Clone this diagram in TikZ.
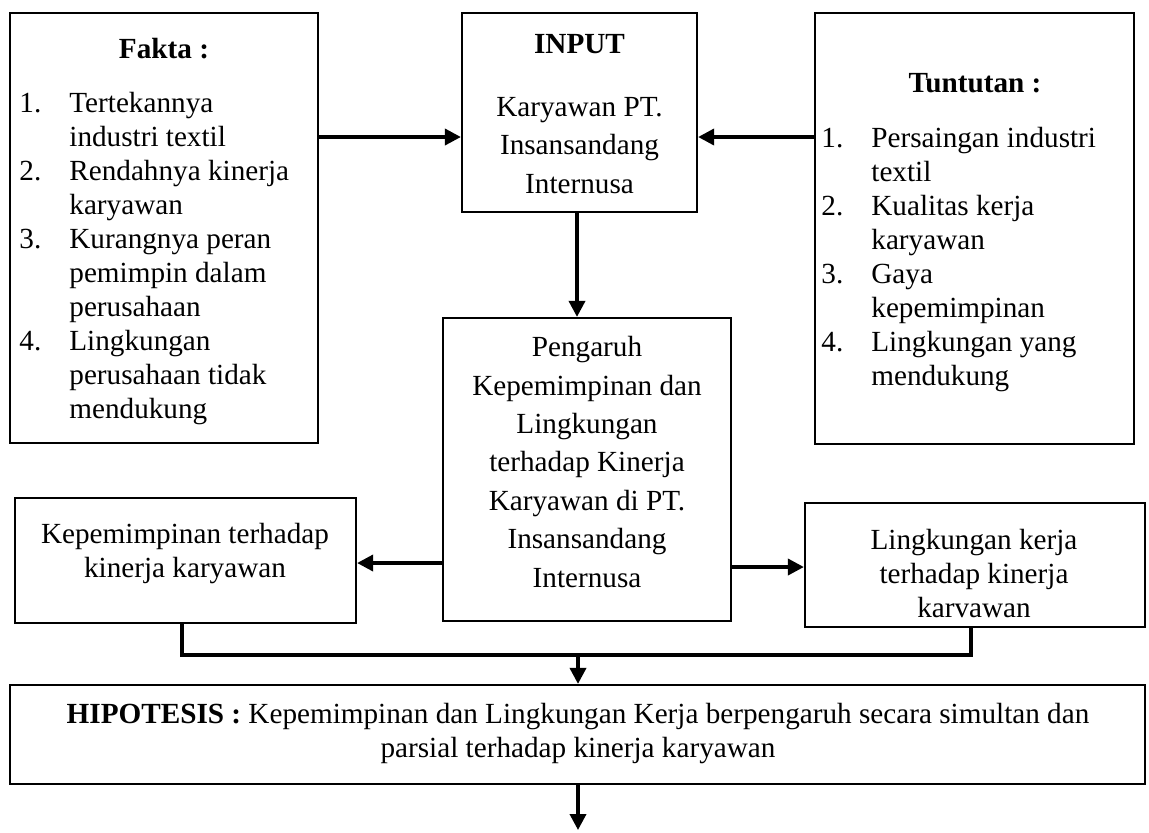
\documentclass[tikz,border=0pt]{standalone}
\usepackage{fontspec}
\setmainfont{Liberation Serif}
\usetikzlibrary{arrows.meta}
\def\nr#1{\makebox[25pt][l]{#1}}

\begin{document}
\begin{tikzpicture}[x=0.5pt,y=-0.5pt,
		kotak/.style={draw, line width=1.1pt, inner sep=0pt},
		teks/.style={inner sep=0pt, font=\fontsize{14.6}{17}\selectfont},
		teksB/.style={inner sep=0pt, font=\fontsize{14.6}{19.2}\selectfont},
		panah/.style={line width=1.8pt, -{Triangle[length=8pt,width=8pt]}},
		garis/.style={line width=1.8pt, line join=miter}]
			%%%%% START %%%%%
			\useasboundingbox (0,0) rectangle (1149,832);
			
			% kotak atas
			\node[kotak, minimum width=154pt, minimum height=215pt] (fakta) at (164,228) {};
			\node[kotak, minimum width=117.5pt, minimum height=99.5pt] (input) at (579.5,112.5) {};
			\node[kotak, minimum width=159.5pt, minimum height=215.5pt] (tuntutan) at (974.5,228.5) {};
			
			\node[teks, anchor=base] (faktajudul) at (164,58) {\textbf{Fakta :}};
			\node[teks, anchor=base west, align=left] (faktaisi) at (19,418) {\nr{1.}Tertekannya\\\nr{}industri textil\\\nr{2.}Rendahnya kinerja\\\nr{}karyawan\\\nr{3.}Kurangnya peran\\\nr{}pemimpin dalam\\\nr{}perusahaan\\\nr{4.}Lingkungan\\\nr{}perusahaan tidak\\\nr{}mendukung};
			
			\node[teksB, anchor=base, align=center] (inputisi) at (579.5,193) {\textbf{INPUT}\\[12.3pt]Karyawan PT.\\Insansandang\\Internusa};
			
			\node[teks, anchor=base] (tuntutanjudul) at (975,92) {\textbf{Tuntutan :}};
			\node[teks, anchor=base west, align=left] (tuntutanisi) at (821,385) {\nr{1.}Persaingan industri\\\nr{}textil\\\nr{2.}Kualitas kerja\\\nr{}karyawan\\\nr{3.}Gaya\\\nr{}kepemimpinan\\\nr{4.}Lingkungan yang\\\nr{}mendukung};
			
			% kotak tengah
			\node[kotak, minimum width=144pt, minimum height=151.5pt] (pengaruh) at (587,469.5) {};
			\node[teksB, anchor=base, align=center] (pengaruhisi) at (587,587) {Pengaruh\\Kepemimpinan dan\\Lingkungan\\terhadap Kinerja\\Karyawan di PT.\\Insansandang\\Internusa};
			
			\node[kotak, minimum width=170.5pt, minimum height=62.5pt] (kepemimpinan) at (185.5,560.5) {};
			\node[teks, anchor=base, align=center] (kepemimpinanisi) at (185,577) {Kepemimpinan terhadap\\kinerja karyawan};
			
			\node[kotak, minimum width=170pt, minimum height=62pt] (lingkungan) at (975,565) {};
			\node[teks, anchor=base, align=center] (lingkunganisi) at (974,617) {Lingkungan kerja\\terhadap kinerja\\karvawan};
			
			% kotak hipotesis
			\node[kotak, minimum width=567.5pt, minimum height=49.5pt] (hipotesis) at (577.5,734.5) {};
			\node[teks, anchor=base, align=center] (hipotesisisi) at (578,757) {\textbf{HIPOTESIS :} Kepemimpinan dan Lingkungan Kerja berpengaruh secara simultan dan\\parsial terhadap kinerja karyawan};
			
			% panah
			\coordinate (jalurA) at (0,137);
			\coordinate (jalurB) at (577,0);
			\coordinate (jalurC) at (578,0);
			\coordinate (ujung) at (578,830);
			
			\draw[panah] (fakta.east |- jalurA) -- (input.west |- jalurA);
			\draw[panah] (tuntutan.west |- jalurA) -- (input.east |- jalurA);
			\draw[panah] (input.south -| jalurB) -- (pengaruh.north -| jalurB);
			\draw[panah] (pengaruh.west |- 0,563) -- (kepemimpinan.east |- 0,563);
			\draw[panah] (pengaruh.east |- 0,567) -- (lingkungan.west |- 0,567);
			
			\draw[garis] (kepemimpinan.south -| 182,0) -- (182,655) -- (971,655) -- (lingkungan.south -| 971,0);
			\draw[panah] (578,655) -- (hipotesis.north -| jalurC);
			\draw[panah] (hipotesis.south -| jalurC) -- (ujung);
			
			%%%%% END %%%%%
\end{tikzpicture}
\end{document}
